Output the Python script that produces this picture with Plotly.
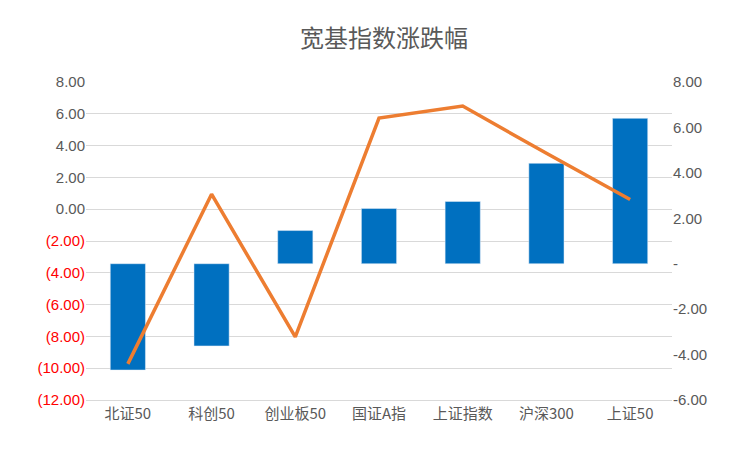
import plotly.graph_objects as go

cats = ["北证50", "科创50", "创业板50", "国证A指", "上证指数", "沪深300", "上证50"]
bar_vals = [-4.68, -3.62, 1.46, 2.43, 2.74, 4.42, 6.40]
line_vals = [-4.41, 3.06, -3.22, 6.41, 6.94, 4.86, 2.83]

left_ticks = [8, 6, 4, 2, 0, -2, -4, -6, -8, -10, -12]
left_text = [f"{v:.2f}" if v >= 0 else f"<span style='color:#FF0000'>({abs(v):.2f})</span>" for v in left_ticks]
right_ticks = [8, 6, 4, 2, 0, -2, -4, -6]
right_text = [("-" if v == 0 else f"{v:.2f}") for v in right_ticks]

fig = go.Figure()
fig.add_trace(go.Scatter(x=[cats[0]], y=[0], yaxis="y", mode="markers", opacity=0, hoverinfo="skip"))
fig.add_trace(go.Bar(x=cats, y=bar_vals, yaxis="y2", marker_color="#0070C0", width=0.42))
fig.add_trace(go.Scatter(x=cats, y=line_vals, yaxis="y2", mode="lines", line=dict(color="#ED7D31", width=3.5)))

fig.update_layout(
    width=752, height=452, showlegend=False,
    paper_bgcolor="white", plot_bgcolor="white",
    margin=dict(l=78, r=88, t=74, b=60),
    title=dict(text="宽基指数涨跌幅", x=0.5, y=0.95, font=dict(size=24, color="#595959", family="Noto Sans CJK SC")),
    font=dict(family="Noto Sans CJK SC", size=14, color="#595959"),
    xaxis=dict(showline=True, linecolor="#D9D9D9", tickfont=dict(size=15)),
    yaxis=dict(range=[-12, 8], tickvals=left_ticks, ticktext=left_text, showgrid=True,
               gridcolor="#D9D9D9", zeroline=False, tickfont=dict(family="Liberation Sans", size=15)),
    yaxis2=dict(range=[-6, 8], overlaying="y", side="right", tickvals=right_ticks, ticktext=right_text,
                showgrid=False, zeroline=False, tickfont=dict(family="Liberation Sans", size=15)),
)
fig.write_html("out.html")
